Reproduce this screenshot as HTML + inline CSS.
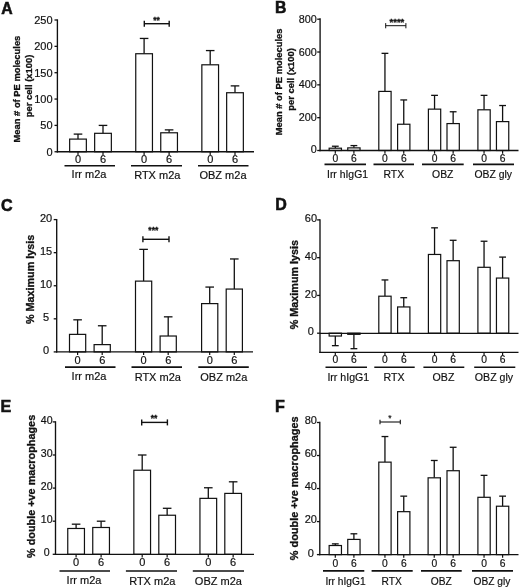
<!DOCTYPE html>
<html lang="en">
<head>
<meta charset="utf-8">
<title>Figure</title>
<style>
html,body{margin:0;padding:0;background:#fff;}
body{width:520px;height:588px;overflow:hidden;}
svg{display:block;will-change:transform;}
svg text{font-family:"Liberation Sans", Arial, Helvetica, sans-serif;fill:#111;stroke:#111;stroke-width:0.18px;}
svg text.b{stroke-width:0.3px;}
svg text.L{stroke-width:0.55px;}
</style>
</head>
<body>
<svg width="520" height="588" viewBox="0 0 520 588">
<rect x="0" y="0" width="520" height="588" fill="#fff"/>
<g>
<text x="1.3" y="14.1" font-size="15.8" text-anchor="start" font-weight="bold" class="L">A</text>
<text x="19.9" y="89.1" font-size="9.4" text-anchor="middle" font-weight="bold" class="b" transform="rotate(-90 19.9 89.1)">Mean # of PE molecules</text>
<text x="31.7" y="86" font-size="9.4" text-anchor="middle" font-weight="bold" class="b" transform="rotate(-90 31.7 86)">per cell (x100)</text>
<line x1="78" y1="134.1" x2="78" y2="139.1" stroke="#111" stroke-width="1.3" stroke-linecap="butt"/>
<line x1="73.7" y1="134.1" x2="82.3" y2="134.1" stroke="#111" stroke-width="1.3" stroke-linecap="butt"/>
<rect x="69.65" y="139.1" width="16.7" height="12.65" fill="#fff" stroke="#111" stroke-width="1.2"/>
<line x1="103" y1="125.4" x2="103" y2="133.31" stroke="#111" stroke-width="1.3" stroke-linecap="butt"/>
<line x1="98.7" y1="125.4" x2="107.3" y2="125.4" stroke="#111" stroke-width="1.3" stroke-linecap="butt"/>
<rect x="94.65" y="133.31" width="16.7" height="18.44" fill="#fff" stroke="#111" stroke-width="1.2"/>
<line x1="144.1" y1="38.44" x2="144.1" y2="53.73" stroke="#111" stroke-width="1.3" stroke-linecap="butt"/>
<line x1="139.8" y1="38.44" x2="148.4" y2="38.44" stroke="#111" stroke-width="1.3" stroke-linecap="butt"/>
<rect x="135.75" y="53.73" width="16.7" height="98.02" fill="#fff" stroke="#111" stroke-width="1.2"/>
<line x1="169.1" y1="129.88" x2="169.1" y2="132.78" stroke="#111" stroke-width="1.3" stroke-linecap="butt"/>
<line x1="164.8" y1="129.88" x2="173.4" y2="129.88" stroke="#111" stroke-width="1.3" stroke-linecap="butt"/>
<rect x="160.75" y="132.78" width="16.7" height="18.97" fill="#fff" stroke="#111" stroke-width="1.2"/>
<line x1="210.2" y1="50.57" x2="210.2" y2="64.8" stroke="#111" stroke-width="1.3" stroke-linecap="butt"/>
<line x1="205.9" y1="50.57" x2="214.5" y2="50.57" stroke="#111" stroke-width="1.3" stroke-linecap="butt"/>
<rect x="201.85" y="64.8" width="16.7" height="86.95" fill="#fff" stroke="#111" stroke-width="1.2"/>
<line x1="235" y1="85.88" x2="235" y2="92.73" stroke="#111" stroke-width="1.3" stroke-linecap="butt"/>
<line x1="230.7" y1="85.88" x2="239.3" y2="85.88" stroke="#111" stroke-width="1.3" stroke-linecap="butt"/>
<rect x="226.65" y="92.73" width="16.7" height="59.02" fill="#fff" stroke="#111" stroke-width="1.2"/>
<line x1="57.4" y1="19.35" x2="57.4" y2="152.43" stroke="#111" stroke-width="1.35" stroke-linecap="butt"/>
<line x1="56.72" y1="151.75" x2="254" y2="151.75" stroke="#111" stroke-width="1.35" stroke-linecap="butt"/>
<line x1="54.5" y1="151.75" x2="57.4" y2="151.75" stroke="#111" stroke-width="1.3" stroke-linecap="butt"/>
<text x="52.6" y="155.55" font-size="11" text-anchor="end">0</text>
<line x1="54.5" y1="125.4" x2="57.4" y2="125.4" stroke="#111" stroke-width="1.3" stroke-linecap="butt"/>
<text x="52.6" y="129.22" font-size="11" text-anchor="end">50</text>
<line x1="54.5" y1="99.05" x2="57.4" y2="99.05" stroke="#111" stroke-width="1.3" stroke-linecap="butt"/>
<text x="52.6" y="102.89" font-size="11" text-anchor="end">100</text>
<line x1="54.5" y1="72.7" x2="57.4" y2="72.7" stroke="#111" stroke-width="1.3" stroke-linecap="butt"/>
<text x="52.6" y="76.56" font-size="11" text-anchor="end">150</text>
<line x1="54.5" y1="46.35" x2="57.4" y2="46.35" stroke="#111" stroke-width="1.3" stroke-linecap="butt"/>
<text x="52.6" y="50.23" font-size="11" text-anchor="end">200</text>
<line x1="54.5" y1="20" x2="57.4" y2="20" stroke="#111" stroke-width="1.3" stroke-linecap="butt"/>
<text x="52.6" y="23.9" font-size="11" text-anchor="end">250</text>
<line x1="78" y1="151.75" x2="78" y2="154.95" stroke="#111" stroke-width="1.2" stroke-linecap="butt"/>
<text x="78" y="162.7" font-size="11" text-anchor="middle">0</text>
<line x1="103" y1="151.75" x2="103" y2="154.95" stroke="#111" stroke-width="1.2" stroke-linecap="butt"/>
<text x="103" y="162.7" font-size="11" text-anchor="middle">6</text>
<line x1="144.1" y1="151.75" x2="144.1" y2="154.95" stroke="#111" stroke-width="1.2" stroke-linecap="butt"/>
<text x="144.1" y="162.7" font-size="11" text-anchor="middle">0</text>
<line x1="169.1" y1="151.75" x2="169.1" y2="154.95" stroke="#111" stroke-width="1.2" stroke-linecap="butt"/>
<text x="169.1" y="162.7" font-size="11" text-anchor="middle">6</text>
<line x1="210.2" y1="151.75" x2="210.2" y2="154.95" stroke="#111" stroke-width="1.2" stroke-linecap="butt"/>
<text x="210.2" y="162.7" font-size="11" text-anchor="middle">0</text>
<line x1="235" y1="151.75" x2="235" y2="154.95" stroke="#111" stroke-width="1.2" stroke-linecap="butt"/>
<text x="235" y="162.7" font-size="11" text-anchor="middle">6</text>
<line x1="64.5" y1="165.8" x2="115" y2="165.8" stroke="#111" stroke-width="1.6" stroke-linecap="butt"/>
<text x="89" y="177.8" font-size="11" text-anchor="middle">Irr m2a</text>
<line x1="131" y1="165.8" x2="182" y2="165.8" stroke="#111" stroke-width="1.6" stroke-linecap="butt"/>
<text x="157.3" y="179.4" font-size="11" text-anchor="middle">RTX m2a</text>
<line x1="198" y1="165.8" x2="248.5" y2="165.8" stroke="#111" stroke-width="1.6" stroke-linecap="butt"/>
<text x="223" y="179.4" font-size="11" text-anchor="middle">OBZ m2a</text>
<line x1="144.3" y1="23.7" x2="169.2" y2="23.7" stroke="#111" stroke-width="1.4" stroke-linecap="butt"/>
<line x1="144.3" y1="20.7" x2="144.3" y2="26.7" stroke="#111" stroke-width="1.4" stroke-linecap="butt"/>
<line x1="169.2" y1="20.7" x2="169.2" y2="26.7" stroke="#111" stroke-width="1.4" stroke-linecap="butt"/>
<text x="156.6" y="22.6" font-size="8.5" text-anchor="middle" font-weight="bold" class="b">**</text>
</g>
<g>
<text x="275" y="13.1" font-size="15.8" text-anchor="start" font-weight="bold" class="L">B</text>
<text x="281.9" y="81.9" font-size="9.4" text-anchor="middle" font-weight="bold" class="b" transform="rotate(-90 281.9 81.9)">Mean # of PE molecules</text>
<text x="294.2" y="79.4" font-size="9.4" text-anchor="middle" font-weight="bold" class="b" transform="rotate(-90 294.2 79.4)">per cell (x100)</text>
<line x1="335.3" y1="146.23" x2="335.3" y2="148.2" stroke="#111" stroke-width="1.3" stroke-linecap="butt"/>
<line x1="331.9" y1="146.23" x2="338.7" y2="146.23" stroke="#111" stroke-width="1.3" stroke-linecap="butt"/>
<rect x="329.15" y="148.2" width="12.3" height="2.3" fill="#fff" stroke="#111" stroke-width="1.2"/>
<line x1="353.9" y1="145.58" x2="353.9" y2="147.87" stroke="#111" stroke-width="1.3" stroke-linecap="butt"/>
<line x1="350.5" y1="145.58" x2="357.3" y2="145.58" stroke="#111" stroke-width="1.3" stroke-linecap="butt"/>
<rect x="347.75" y="147.87" width="12.3" height="2.63" fill="#fff" stroke="#111" stroke-width="1.2"/>
<line x1="384.95" y1="53.34" x2="384.95" y2="91.41" stroke="#111" stroke-width="1.3" stroke-linecap="butt"/>
<line x1="381.55" y1="53.34" x2="388.35" y2="53.34" stroke="#111" stroke-width="1.3" stroke-linecap="butt"/>
<rect x="378.8" y="91.41" width="12.3" height="59.09" fill="#fff" stroke="#111" stroke-width="1.2"/>
<line x1="403.75" y1="99.95" x2="403.75" y2="124.24" stroke="#111" stroke-width="1.3" stroke-linecap="butt"/>
<line x1="400.35" y1="99.95" x2="407.15" y2="99.95" stroke="#111" stroke-width="1.3" stroke-linecap="butt"/>
<rect x="397.6" y="124.24" width="12.3" height="26.26" fill="#fff" stroke="#111" stroke-width="1.2"/>
<line x1="434.55" y1="95.35" x2="434.55" y2="109.14" stroke="#111" stroke-width="1.3" stroke-linecap="butt"/>
<line x1="431.15" y1="95.35" x2="437.95" y2="95.35" stroke="#111" stroke-width="1.3" stroke-linecap="butt"/>
<rect x="428.4" y="109.14" width="12.3" height="41.36" fill="#fff" stroke="#111" stroke-width="1.2"/>
<line x1="453.15" y1="111.77" x2="453.15" y2="123.58" stroke="#111" stroke-width="1.3" stroke-linecap="butt"/>
<line x1="449.75" y1="111.77" x2="456.55" y2="111.77" stroke="#111" stroke-width="1.3" stroke-linecap="butt"/>
<rect x="447" y="123.58" width="12.3" height="26.92" fill="#fff" stroke="#111" stroke-width="1.2"/>
<line x1="484.05" y1="95.35" x2="484.05" y2="109.8" stroke="#111" stroke-width="1.3" stroke-linecap="butt"/>
<line x1="480.65" y1="95.35" x2="487.45" y2="95.35" stroke="#111" stroke-width="1.3" stroke-linecap="butt"/>
<rect x="477.9" y="109.8" width="12.3" height="40.7" fill="#fff" stroke="#111" stroke-width="1.2"/>
<line x1="502.6" y1="105.53" x2="502.6" y2="121.61" stroke="#111" stroke-width="1.3" stroke-linecap="butt"/>
<line x1="499.2" y1="105.53" x2="506" y2="105.53" stroke="#111" stroke-width="1.3" stroke-linecap="butt"/>
<rect x="496.45" y="121.61" width="12.3" height="28.89" fill="#fff" stroke="#111" stroke-width="1.2"/>
<line x1="320.1" y1="18.35" x2="320.1" y2="151.18" stroke="#111" stroke-width="1.35" stroke-linecap="butt"/>
<line x1="319.42" y1="150.5" x2="518.5" y2="150.5" stroke="#111" stroke-width="1.35" stroke-linecap="butt"/>
<line x1="317.2" y1="150.5" x2="320.1" y2="150.5" stroke="#111" stroke-width="1.3" stroke-linecap="butt"/>
<text x="316.7" y="153.1" font-size="10.8" text-anchor="end">0</text>
<line x1="317.2" y1="117.67" x2="320.1" y2="117.67" stroke="#111" stroke-width="1.3" stroke-linecap="butt"/>
<text x="316.7" y="120.6" font-size="10.8" text-anchor="end">200</text>
<line x1="317.2" y1="84.85" x2="320.1" y2="84.85" stroke="#111" stroke-width="1.3" stroke-linecap="butt"/>
<text x="316.7" y="88.1" font-size="10.8" text-anchor="end">400</text>
<line x1="317.2" y1="52.02" x2="320.1" y2="52.02" stroke="#111" stroke-width="1.3" stroke-linecap="butt"/>
<text x="316.7" y="55.6" font-size="10.8" text-anchor="end">600</text>
<line x1="317.2" y1="19.2" x2="320.1" y2="19.2" stroke="#111" stroke-width="1.3" stroke-linecap="butt"/>
<text x="316.7" y="23.1" font-size="10.8" text-anchor="end">800</text>
<line x1="335.3" y1="150.5" x2="335.3" y2="153.7" stroke="#111" stroke-width="1.2" stroke-linecap="butt"/>
<text x="335.3" y="161.6" font-size="10.3" text-anchor="middle">0</text>
<line x1="353.9" y1="150.5" x2="353.9" y2="153.7" stroke="#111" stroke-width="1.2" stroke-linecap="butt"/>
<text x="353.9" y="161.6" font-size="10.3" text-anchor="middle">6</text>
<line x1="384.95" y1="150.5" x2="384.95" y2="153.7" stroke="#111" stroke-width="1.2" stroke-linecap="butt"/>
<text x="384.95" y="161.6" font-size="10.3" text-anchor="middle">0</text>
<line x1="403.75" y1="150.5" x2="403.75" y2="153.7" stroke="#111" stroke-width="1.2" stroke-linecap="butt"/>
<text x="403.75" y="161.6" font-size="10.3" text-anchor="middle">6</text>
<line x1="434.55" y1="150.5" x2="434.55" y2="153.7" stroke="#111" stroke-width="1.2" stroke-linecap="butt"/>
<text x="434.55" y="161.6" font-size="10.3" text-anchor="middle">0</text>
<line x1="453.15" y1="150.5" x2="453.15" y2="153.7" stroke="#111" stroke-width="1.2" stroke-linecap="butt"/>
<text x="453.15" y="161.6" font-size="10.3" text-anchor="middle">6</text>
<line x1="484.05" y1="150.5" x2="484.05" y2="153.7" stroke="#111" stroke-width="1.2" stroke-linecap="butt"/>
<text x="484.05" y="161.6" font-size="10.3" text-anchor="middle">0</text>
<line x1="502.6" y1="150.5" x2="502.6" y2="153.7" stroke="#111" stroke-width="1.2" stroke-linecap="butt"/>
<text x="502.6" y="161.6" font-size="10.3" text-anchor="middle">6</text>
<line x1="324.5" y1="164.4" x2="366" y2="164.4" stroke="#111" stroke-width="1.6" stroke-linecap="butt"/>
<text x="347.5" y="177.5" font-size="10.4" text-anchor="middle">Irr hIgG1</text>
<line x1="373.5" y1="164.4" x2="414" y2="164.4" stroke="#111" stroke-width="1.6" stroke-linecap="butt"/>
<text x="393.8" y="177.5" font-size="10.4" text-anchor="middle">RTX</text>
<line x1="422" y1="164.4" x2="463.7" y2="164.4" stroke="#111" stroke-width="1.6" stroke-linecap="butt"/>
<text x="442.8" y="177.5" font-size="10.4" text-anchor="middle">OBZ</text>
<line x1="473" y1="164.4" x2="514" y2="164.4" stroke="#111" stroke-width="1.6" stroke-linecap="butt"/>
<text x="493.2" y="177.5" font-size="10.4" text-anchor="middle">OBZ gly</text>
<line x1="385.7" y1="25.7" x2="405.9" y2="25.7" stroke="#111" stroke-width="1" stroke-linecap="butt"/>
<line x1="385.7" y1="23.1" x2="385.7" y2="28.3" stroke="#111" stroke-width="1" stroke-linecap="butt"/>
<line x1="405.9" y1="23.1" x2="405.9" y2="28.3" stroke="#111" stroke-width="1" stroke-linecap="butt"/>
<text x="396.9" y="25" font-size="9.5" text-anchor="middle" font-weight="bold" class="b">****</text>
</g>
<g>
<text x="1" y="210.5" font-size="16.1" text-anchor="start" font-weight="bold" class="L">C</text>
<text x="33.6" y="279.4" font-size="10.8" text-anchor="middle" font-weight="bold" class="b" transform="rotate(-90 33.6 279.4)">% Maximum lysis</text>
<line x1="77.6" y1="319.82" x2="77.6" y2="334.37" stroke="#111" stroke-width="1.3" stroke-linecap="butt"/>
<line x1="73.3" y1="319.82" x2="81.9" y2="319.82" stroke="#111" stroke-width="1.3" stroke-linecap="butt"/>
<rect x="69.5" y="334.37" width="16.2" height="17.53" fill="#fff" stroke="#111" stroke-width="1.2"/>
<line x1="102.2" y1="325.77" x2="102.2" y2="344.62" stroke="#111" stroke-width="1.3" stroke-linecap="butt"/>
<line x1="97.9" y1="325.77" x2="106.5" y2="325.77" stroke="#111" stroke-width="1.3" stroke-linecap="butt"/>
<rect x="94.1" y="344.62" width="16.2" height="7.28" fill="#fff" stroke="#111" stroke-width="1.2"/>
<line x1="143.6" y1="249.37" x2="143.6" y2="281.12" stroke="#111" stroke-width="1.3" stroke-linecap="butt"/>
<line x1="139.3" y1="249.37" x2="147.9" y2="249.37" stroke="#111" stroke-width="1.3" stroke-linecap="butt"/>
<rect x="135.5" y="281.12" width="16.2" height="70.78" fill="#fff" stroke="#111" stroke-width="1.2"/>
<line x1="168.2" y1="316.84" x2="168.2" y2="336.02" stroke="#111" stroke-width="1.3" stroke-linecap="butt"/>
<line x1="163.9" y1="316.84" x2="172.5" y2="316.84" stroke="#111" stroke-width="1.3" stroke-linecap="butt"/>
<rect x="160.1" y="336.02" width="16.2" height="15.88" fill="#fff" stroke="#111" stroke-width="1.2"/>
<line x1="209.7" y1="287.07" x2="209.7" y2="303.61" stroke="#111" stroke-width="1.3" stroke-linecap="butt"/>
<line x1="205.4" y1="287.07" x2="214" y2="287.07" stroke="#111" stroke-width="1.3" stroke-linecap="butt"/>
<rect x="201.6" y="303.61" width="16.2" height="48.29" fill="#fff" stroke="#111" stroke-width="1.2"/>
<line x1="234.3" y1="258.96" x2="234.3" y2="289.06" stroke="#111" stroke-width="1.3" stroke-linecap="butt"/>
<line x1="230" y1="258.96" x2="238.6" y2="258.96" stroke="#111" stroke-width="1.3" stroke-linecap="butt"/>
<rect x="226.2" y="289.06" width="16.2" height="62.84" fill="#fff" stroke="#111" stroke-width="1.2"/>
<line x1="56.7" y1="218.95" x2="56.7" y2="352.58" stroke="#111" stroke-width="1.35" stroke-linecap="butt"/>
<line x1="56.02" y1="351.9" x2="253" y2="351.9" stroke="#111" stroke-width="1.35" stroke-linecap="butt"/>
<line x1="53.7" y1="351.9" x2="56.7" y2="351.9" stroke="#111" stroke-width="1.3" stroke-linecap="butt"/>
<text x="46.1" y="353.5" font-size="11" text-anchor="middle">0</text>
<line x1="53.7" y1="318.82" x2="56.7" y2="318.82" stroke="#111" stroke-width="1.3" stroke-linecap="butt"/>
<text x="46.1" y="320.6" font-size="11" text-anchor="middle">5</text>
<line x1="53.7" y1="285.75" x2="56.7" y2="285.75" stroke="#111" stroke-width="1.3" stroke-linecap="butt"/>
<text x="46.1" y="287.7" font-size="11" text-anchor="middle">10</text>
<line x1="53.7" y1="252.67" x2="56.7" y2="252.67" stroke="#111" stroke-width="1.3" stroke-linecap="butt"/>
<text x="46.1" y="254.8" font-size="11" text-anchor="middle">15</text>
<line x1="53.7" y1="219.6" x2="56.7" y2="219.6" stroke="#111" stroke-width="1.3" stroke-linecap="butt"/>
<text x="46.1" y="221.9" font-size="11" text-anchor="middle">20</text>
<line x1="77.6" y1="351.9" x2="77.6" y2="355.1" stroke="#111" stroke-width="1.2" stroke-linecap="butt"/>
<text x="77.6" y="363.7" font-size="11" text-anchor="middle">0</text>
<line x1="102.2" y1="351.9" x2="102.2" y2="355.1" stroke="#111" stroke-width="1.2" stroke-linecap="butt"/>
<text x="102.2" y="363.7" font-size="11" text-anchor="middle">6</text>
<line x1="143.6" y1="351.9" x2="143.6" y2="355.1" stroke="#111" stroke-width="1.2" stroke-linecap="butt"/>
<text x="143.6" y="363.7" font-size="11" text-anchor="middle">0</text>
<line x1="168.2" y1="351.9" x2="168.2" y2="355.1" stroke="#111" stroke-width="1.2" stroke-linecap="butt"/>
<text x="168.2" y="363.7" font-size="11" text-anchor="middle">6</text>
<line x1="209.7" y1="351.9" x2="209.7" y2="355.1" stroke="#111" stroke-width="1.2" stroke-linecap="butt"/>
<text x="209.7" y="363.7" font-size="11" text-anchor="middle">0</text>
<line x1="234.3" y1="351.9" x2="234.3" y2="355.1" stroke="#111" stroke-width="1.2" stroke-linecap="butt"/>
<text x="234.3" y="363.7" font-size="11" text-anchor="middle">6</text>
<line x1="65" y1="367.1" x2="115.5" y2="367.1" stroke="#111" stroke-width="1.6" stroke-linecap="butt"/>
<text x="89" y="380.1" font-size="11" text-anchor="middle">Irr m2a</text>
<line x1="131.5" y1="367.1" x2="182" y2="367.1" stroke="#111" stroke-width="1.6" stroke-linecap="butt"/>
<text x="157.8" y="380.9" font-size="11" text-anchor="middle">RTX m2a</text>
<line x1="198.3" y1="367.1" x2="248.8" y2="367.1" stroke="#111" stroke-width="1.6" stroke-linecap="butt"/>
<text x="223.8" y="380.9" font-size="11" text-anchor="middle">OBZ m2a</text>
<line x1="142.9" y1="239.3" x2="169" y2="239.3" stroke="#111" stroke-width="1.4" stroke-linecap="butt"/>
<line x1="142.9" y1="236.3" x2="142.9" y2="242.3" stroke="#111" stroke-width="1.4" stroke-linecap="butt"/>
<line x1="169" y1="236.3" x2="169" y2="242.3" stroke="#111" stroke-width="1.4" stroke-linecap="butt"/>
<text x="153.3" y="233.2" font-size="8.5" text-anchor="middle" font-weight="bold" class="b">***</text>
</g>
<g>
<text x="275.2" y="210.3" font-size="16" text-anchor="start" font-weight="bold" class="L">D</text>
<text x="297.9" y="284.6" font-size="10.8" text-anchor="middle" font-weight="bold" class="b" transform="rotate(-90 297.9 284.6)">% Maximum lysis</text>
<line x1="335.3" y1="345.66" x2="335.3" y2="336.03" stroke="#111" stroke-width="1.3" stroke-linecap="butt"/>
<line x1="331.9" y1="345.66" x2="338.7" y2="345.66" stroke="#111" stroke-width="1.3" stroke-linecap="butt"/>
<rect x="329.15" y="333.2" width="12.3" height="2.83" fill="#fff" stroke="#111" stroke-width="1.2"/>
<line x1="353.9" y1="348.68" x2="353.9" y2="334.33" stroke="#111" stroke-width="1.3" stroke-linecap="butt"/>
<line x1="350.5" y1="348.68" x2="357.3" y2="348.68" stroke="#111" stroke-width="1.3" stroke-linecap="butt"/>
<rect x="347.75" y="333.2" width="12.3" height="1.13" fill="#fff" stroke="#111" stroke-width="1.2"/>
<line x1="384.95" y1="279.95" x2="384.95" y2="296.19" stroke="#111" stroke-width="1.3" stroke-linecap="butt"/>
<line x1="381.55" y1="279.95" x2="388.35" y2="279.95" stroke="#111" stroke-width="1.3" stroke-linecap="butt"/>
<rect x="378.8" y="296.19" width="12.3" height="37.01" fill="#fff" stroke="#111" stroke-width="1.2"/>
<line x1="403.75" y1="297.7" x2="403.75" y2="306.95" stroke="#111" stroke-width="1.3" stroke-linecap="butt"/>
<line x1="400.35" y1="297.7" x2="407.15" y2="297.7" stroke="#111" stroke-width="1.3" stroke-linecap="butt"/>
<rect x="397.6" y="306.95" width="12.3" height="26.25" fill="#fff" stroke="#111" stroke-width="1.2"/>
<line x1="434.55" y1="227.83" x2="434.55" y2="254.46" stroke="#111" stroke-width="1.3" stroke-linecap="butt"/>
<line x1="431.15" y1="227.83" x2="437.95" y2="227.83" stroke="#111" stroke-width="1.3" stroke-linecap="butt"/>
<rect x="428.4" y="254.46" width="12.3" height="78.74" fill="#fff" stroke="#111" stroke-width="1.2"/>
<line x1="453.15" y1="240.29" x2="453.15" y2="260.69" stroke="#111" stroke-width="1.3" stroke-linecap="butt"/>
<line x1="449.75" y1="240.29" x2="456.55" y2="240.29" stroke="#111" stroke-width="1.3" stroke-linecap="butt"/>
<rect x="447" y="260.69" width="12.3" height="72.51" fill="#fff" stroke="#111" stroke-width="1.2"/>
<line x1="484.05" y1="241.24" x2="484.05" y2="267.3" stroke="#111" stroke-width="1.3" stroke-linecap="butt"/>
<line x1="480.65" y1="241.24" x2="487.45" y2="241.24" stroke="#111" stroke-width="1.3" stroke-linecap="butt"/>
<rect x="477.9" y="267.3" width="12.3" height="65.9" fill="#fff" stroke="#111" stroke-width="1.2"/>
<line x1="502.6" y1="257.1" x2="502.6" y2="278.06" stroke="#111" stroke-width="1.3" stroke-linecap="butt"/>
<line x1="499.2" y1="257.1" x2="506" y2="257.1" stroke="#111" stroke-width="1.3" stroke-linecap="butt"/>
<rect x="496.45" y="278.06" width="12.3" height="55.14" fill="#fff" stroke="#111" stroke-width="1.2"/>
<line x1="320" y1="219.25" x2="320" y2="353.08" stroke="#111" stroke-width="1.35" stroke-linecap="butt"/>
<line x1="319.32" y1="352.4" x2="518.5" y2="352.4" stroke="#111" stroke-width="1.35" stroke-linecap="butt"/>
<line x1="320" y1="333.4" x2="518.5" y2="333.4" stroke="#111" stroke-width="1.3" stroke-linecap="butt"/>
<line x1="317.1" y1="333.2" x2="320" y2="333.2" stroke="#111" stroke-width="1.3" stroke-linecap="butt"/>
<text x="310.9" y="335.3" font-size="11" text-anchor="middle">0</text>
<line x1="317.1" y1="295.43" x2="320" y2="295.43" stroke="#111" stroke-width="1.3" stroke-linecap="butt"/>
<text x="310.9" y="297.55" font-size="11" text-anchor="middle">20</text>
<line x1="317.1" y1="257.67" x2="320" y2="257.67" stroke="#111" stroke-width="1.3" stroke-linecap="butt"/>
<text x="310.9" y="259.8" font-size="11" text-anchor="middle">40</text>
<line x1="317.1" y1="219.9" x2="320" y2="219.9" stroke="#111" stroke-width="1.3" stroke-linecap="butt"/>
<text x="310.9" y="222.05" font-size="11" text-anchor="middle">60</text>
<line x1="335.3" y1="352.4" x2="335.3" y2="355.6" stroke="#111" stroke-width="1.2" stroke-linecap="butt"/>
<text x="335.3" y="363.4" font-size="10.3" text-anchor="middle">0</text>
<line x1="353.9" y1="352.4" x2="353.9" y2="355.6" stroke="#111" stroke-width="1.2" stroke-linecap="butt"/>
<text x="353.9" y="363.4" font-size="10.3" text-anchor="middle">6</text>
<line x1="384.95" y1="352.4" x2="384.95" y2="355.6" stroke="#111" stroke-width="1.2" stroke-linecap="butt"/>
<text x="384.95" y="363.4" font-size="10.3" text-anchor="middle">0</text>
<line x1="403.75" y1="352.4" x2="403.75" y2="355.6" stroke="#111" stroke-width="1.2" stroke-linecap="butt"/>
<text x="403.75" y="363.4" font-size="10.3" text-anchor="middle">6</text>
<line x1="434.55" y1="352.4" x2="434.55" y2="355.6" stroke="#111" stroke-width="1.2" stroke-linecap="butt"/>
<text x="434.55" y="363.4" font-size="10.3" text-anchor="middle">0</text>
<line x1="453.15" y1="352.4" x2="453.15" y2="355.6" stroke="#111" stroke-width="1.2" stroke-linecap="butt"/>
<text x="453.15" y="363.4" font-size="10.3" text-anchor="middle">6</text>
<line x1="484.05" y1="352.4" x2="484.05" y2="355.6" stroke="#111" stroke-width="1.2" stroke-linecap="butt"/>
<text x="484.05" y="363.4" font-size="10.3" text-anchor="middle">0</text>
<line x1="502.6" y1="352.4" x2="502.6" y2="355.6" stroke="#111" stroke-width="1.2" stroke-linecap="butt"/>
<text x="502.6" y="363.4" font-size="10.3" text-anchor="middle">6</text>
<line x1="325.5" y1="367.3" x2="367" y2="367.3" stroke="#111" stroke-width="1.6" stroke-linecap="butt"/>
<text x="348.3" y="381" font-size="10.6" text-anchor="middle">Irr hIgG1</text>
<line x1="374.3" y1="367.3" x2="414.7" y2="367.3" stroke="#111" stroke-width="1.6" stroke-linecap="butt"/>
<text x="394" y="381" font-size="10.6" text-anchor="middle">RTX</text>
<line x1="423.4" y1="367.3" x2="464.3" y2="367.3" stroke="#111" stroke-width="1.6" stroke-linecap="butt"/>
<text x="443.5" y="381" font-size="10.6" text-anchor="middle">OBZ</text>
<line x1="474.2" y1="367.3" x2="515.3" y2="367.3" stroke="#111" stroke-width="1.6" stroke-linecap="butt"/>
<text x="494" y="381" font-size="10.6" text-anchor="middle">OBZ gly</text>
</g>
<g>
<text x="0.4" y="411.7" font-size="16.1" text-anchor="start" font-weight="bold" class="L">E</text>
<text x="34.9" y="486.4" font-size="10.85" text-anchor="middle" font-weight="bold" class="b" transform="rotate(-90 34.9 486.4)">% double +ve macrophages</text>
<line x1="76.1" y1="524.18" x2="76.1" y2="528.48" stroke="#111" stroke-width="1.3" stroke-linecap="butt"/>
<line x1="71.8" y1="524.18" x2="80.4" y2="524.18" stroke="#111" stroke-width="1.3" stroke-linecap="butt"/>
<rect x="67.75" y="528.48" width="16.7" height="25.82" fill="#fff" stroke="#111" stroke-width="1.2"/>
<line x1="101.1" y1="521.2" x2="101.1" y2="527.49" stroke="#111" stroke-width="1.3" stroke-linecap="butt"/>
<line x1="96.8" y1="521.2" x2="105.4" y2="521.2" stroke="#111" stroke-width="1.3" stroke-linecap="butt"/>
<rect x="92.75" y="527.49" width="16.7" height="26.81" fill="#fff" stroke="#111" stroke-width="1.2"/>
<line x1="142.2" y1="455" x2="142.2" y2="470.23" stroke="#111" stroke-width="1.3" stroke-linecap="butt"/>
<line x1="137.9" y1="455" x2="146.5" y2="455" stroke="#111" stroke-width="1.3" stroke-linecap="butt"/>
<rect x="133.85" y="470.23" width="16.7" height="84.07" fill="#fff" stroke="#111" stroke-width="1.2"/>
<line x1="167.15" y1="508.29" x2="167.15" y2="515.24" stroke="#111" stroke-width="1.3" stroke-linecap="butt"/>
<line x1="162.85" y1="508.29" x2="171.45" y2="508.29" stroke="#111" stroke-width="1.3" stroke-linecap="butt"/>
<rect x="158.8" y="515.24" width="16.7" height="39.06" fill="#fff" stroke="#111" stroke-width="1.2"/>
<line x1="208.3" y1="487.77" x2="208.3" y2="498.36" stroke="#111" stroke-width="1.3" stroke-linecap="butt"/>
<line x1="204" y1="487.77" x2="212.6" y2="487.77" stroke="#111" stroke-width="1.3" stroke-linecap="butt"/>
<rect x="199.95" y="498.36" width="16.7" height="55.94" fill="#fff" stroke="#111" stroke-width="1.2"/>
<line x1="233.15" y1="481.81" x2="233.15" y2="493.4" stroke="#111" stroke-width="1.3" stroke-linecap="butt"/>
<line x1="228.85" y1="481.81" x2="237.45" y2="481.81" stroke="#111" stroke-width="1.3" stroke-linecap="butt"/>
<rect x="224.8" y="493.4" width="16.7" height="60.9" fill="#fff" stroke="#111" stroke-width="1.2"/>
<line x1="55.5" y1="421.25" x2="55.5" y2="554.98" stroke="#111" stroke-width="1.35" stroke-linecap="butt"/>
<line x1="54.82" y1="554.3" x2="254" y2="554.3" stroke="#111" stroke-width="1.35" stroke-linecap="butt"/>
<line x1="52.7" y1="554.3" x2="55.5" y2="554.3" stroke="#111" stroke-width="1.3" stroke-linecap="butt"/>
<text x="46.7" y="556.2" font-size="10.6" text-anchor="middle">0</text>
<line x1="52.7" y1="521.2" x2="55.5" y2="521.2" stroke="#111" stroke-width="1.3" stroke-linecap="butt"/>
<text x="46.7" y="523.16" font-size="10.6" text-anchor="middle">10</text>
<line x1="52.7" y1="488.1" x2="55.5" y2="488.1" stroke="#111" stroke-width="1.3" stroke-linecap="butt"/>
<text x="46.7" y="490.12" font-size="10.6" text-anchor="middle">20</text>
<line x1="52.7" y1="455" x2="55.5" y2="455" stroke="#111" stroke-width="1.3" stroke-linecap="butt"/>
<text x="46.7" y="457.09" font-size="10.6" text-anchor="middle">30</text>
<line x1="52.7" y1="421.9" x2="55.5" y2="421.9" stroke="#111" stroke-width="1.3" stroke-linecap="butt"/>
<text x="46.7" y="424.05" font-size="10.6" text-anchor="middle">40</text>
<line x1="76.1" y1="554.3" x2="76.1" y2="557.5" stroke="#111" stroke-width="1.2" stroke-linecap="butt"/>
<text x="76.1" y="566" font-size="11" text-anchor="middle">0</text>
<line x1="101.1" y1="554.3" x2="101.1" y2="557.5" stroke="#111" stroke-width="1.2" stroke-linecap="butt"/>
<text x="101.1" y="566" font-size="11" text-anchor="middle">6</text>
<line x1="142.2" y1="554.3" x2="142.2" y2="557.5" stroke="#111" stroke-width="1.2" stroke-linecap="butt"/>
<text x="142.2" y="566" font-size="11" text-anchor="middle">0</text>
<line x1="167.15" y1="554.3" x2="167.15" y2="557.5" stroke="#111" stroke-width="1.2" stroke-linecap="butt"/>
<text x="167.15" y="566" font-size="11" text-anchor="middle">6</text>
<line x1="208.3" y1="554.3" x2="208.3" y2="557.5" stroke="#111" stroke-width="1.2" stroke-linecap="butt"/>
<text x="208.3" y="566" font-size="11" text-anchor="middle">0</text>
<line x1="233.15" y1="554.3" x2="233.15" y2="557.5" stroke="#111" stroke-width="1.2" stroke-linecap="butt"/>
<text x="233.15" y="566" font-size="11" text-anchor="middle">6</text>
<line x1="59.5" y1="571" x2="110" y2="571" stroke="#111" stroke-width="1.6" stroke-linecap="butt"/>
<text x="84" y="583.5" font-size="11" text-anchor="middle">Irr m2a</text>
<line x1="125.9" y1="571" x2="177" y2="571" stroke="#111" stroke-width="1.6" stroke-linecap="butt"/>
<text x="152.3" y="584.5" font-size="11" text-anchor="middle">RTX m2a</text>
<line x1="192.8" y1="571" x2="244" y2="571" stroke="#111" stroke-width="1.6" stroke-linecap="butt"/>
<text x="218.4" y="584.5" font-size="11" text-anchor="middle">OBZ m2a</text>
<line x1="141.7" y1="422.4" x2="167.4" y2="422.4" stroke="#111" stroke-width="1.4" stroke-linecap="butt"/>
<line x1="141.7" y1="419.4" x2="141.7" y2="425.4" stroke="#111" stroke-width="1.4" stroke-linecap="butt"/>
<line x1="167.4" y1="419.4" x2="167.4" y2="425.4" stroke="#111" stroke-width="1.4" stroke-linecap="butt"/>
<text x="154" y="421.3" font-size="8.5" text-anchor="middle" font-weight="bold" class="b">**</text>
</g>
<g>
<text x="274.9" y="411.8" font-size="16.1" text-anchor="start" font-weight="bold" class="L">F</text>
<text x="297.9" y="488.3" font-size="10.9" text-anchor="middle" font-weight="bold" class="b" transform="rotate(-90 297.9 488.3)">% double +ve macrophages</text>
<line x1="335.3" y1="543.87" x2="335.3" y2="545.52" stroke="#111" stroke-width="1.3" stroke-linecap="butt"/>
<line x1="331.9" y1="543.87" x2="338.7" y2="543.87" stroke="#111" stroke-width="1.3" stroke-linecap="butt"/>
<rect x="329.15" y="545.52" width="12.3" height="9.08" fill="#fff" stroke="#111" stroke-width="1.2"/>
<line x1="353.9" y1="533.79" x2="353.9" y2="539.41" stroke="#111" stroke-width="1.3" stroke-linecap="butt"/>
<line x1="350.5" y1="533.79" x2="357.3" y2="533.79" stroke="#111" stroke-width="1.3" stroke-linecap="butt"/>
<rect x="347.75" y="539.41" width="12.3" height="15.19" fill="#fff" stroke="#111" stroke-width="1.2"/>
<line x1="384.95" y1="436.54" x2="384.95" y2="462.13" stroke="#111" stroke-width="1.3" stroke-linecap="butt"/>
<line x1="381.55" y1="436.54" x2="388.35" y2="436.54" stroke="#111" stroke-width="1.3" stroke-linecap="butt"/>
<rect x="378.8" y="462.13" width="12.3" height="92.47" fill="#fff" stroke="#111" stroke-width="1.2"/>
<line x1="403.75" y1="496.15" x2="403.75" y2="511.67" stroke="#111" stroke-width="1.3" stroke-linecap="butt"/>
<line x1="400.35" y1="496.15" x2="407.15" y2="496.15" stroke="#111" stroke-width="1.3" stroke-linecap="butt"/>
<rect x="397.6" y="511.67" width="12.3" height="42.93" fill="#fff" stroke="#111" stroke-width="1.2"/>
<line x1="434.25" y1="460.48" x2="434.25" y2="477.82" stroke="#111" stroke-width="1.3" stroke-linecap="butt"/>
<line x1="430.85" y1="460.48" x2="437.65" y2="460.48" stroke="#111" stroke-width="1.3" stroke-linecap="butt"/>
<rect x="428.1" y="477.82" width="12.3" height="76.78" fill="#fff" stroke="#111" stroke-width="1.2"/>
<line x1="453.15" y1="447.27" x2="453.15" y2="470.72" stroke="#111" stroke-width="1.3" stroke-linecap="butt"/>
<line x1="449.75" y1="447.27" x2="456.55" y2="447.27" stroke="#111" stroke-width="1.3" stroke-linecap="butt"/>
<rect x="447" y="470.72" width="12.3" height="83.88" fill="#fff" stroke="#111" stroke-width="1.2"/>
<line x1="484.05" y1="475.34" x2="484.05" y2="497.3" stroke="#111" stroke-width="1.3" stroke-linecap="butt"/>
<line x1="480.65" y1="475.34" x2="487.45" y2="475.34" stroke="#111" stroke-width="1.3" stroke-linecap="butt"/>
<rect x="477.9" y="497.3" width="12.3" height="57.3" fill="#fff" stroke="#111" stroke-width="1.2"/>
<line x1="502.6" y1="496.15" x2="502.6" y2="506.22" stroke="#111" stroke-width="1.3" stroke-linecap="butt"/>
<line x1="499.2" y1="496.15" x2="506" y2="496.15" stroke="#111" stroke-width="1.3" stroke-linecap="butt"/>
<rect x="496.45" y="506.22" width="12.3" height="48.38" fill="#fff" stroke="#111" stroke-width="1.2"/>
<line x1="319.8" y1="421.85" x2="319.8" y2="555.28" stroke="#111" stroke-width="1.35" stroke-linecap="butt"/>
<line x1="319.12" y1="554.6" x2="518.5" y2="554.6" stroke="#111" stroke-width="1.35" stroke-linecap="butt"/>
<line x1="316.9" y1="554.6" x2="319.8" y2="554.6" stroke="#111" stroke-width="1.3" stroke-linecap="butt"/>
<text x="310.8" y="556.5" font-size="11" text-anchor="middle">0</text>
<line x1="316.9" y1="521.58" x2="319.8" y2="521.58" stroke="#111" stroke-width="1.3" stroke-linecap="butt"/>
<text x="310.8" y="523.43" font-size="11" text-anchor="middle">20</text>
<line x1="316.9" y1="488.55" x2="319.8" y2="488.55" stroke="#111" stroke-width="1.3" stroke-linecap="butt"/>
<text x="310.8" y="490.35" font-size="11" text-anchor="middle">40</text>
<line x1="316.9" y1="455.53" x2="319.8" y2="455.53" stroke="#111" stroke-width="1.3" stroke-linecap="butt"/>
<text x="310.8" y="457.28" font-size="11" text-anchor="middle">60</text>
<line x1="316.9" y1="422.5" x2="319.8" y2="422.5" stroke="#111" stroke-width="1.3" stroke-linecap="butt"/>
<text x="310.8" y="424.2" font-size="11" text-anchor="middle">80</text>
<line x1="335.3" y1="554.6" x2="335.3" y2="557.8" stroke="#111" stroke-width="1.2" stroke-linecap="butt"/>
<text x="335.3" y="566.8" font-size="10.3" text-anchor="middle">0</text>
<line x1="353.9" y1="554.6" x2="353.9" y2="557.8" stroke="#111" stroke-width="1.2" stroke-linecap="butt"/>
<text x="353.9" y="566.8" font-size="10.3" text-anchor="middle">6</text>
<line x1="384.95" y1="554.6" x2="384.95" y2="557.8" stroke="#111" stroke-width="1.2" stroke-linecap="butt"/>
<text x="384.95" y="566.8" font-size="10.3" text-anchor="middle">0</text>
<line x1="403.75" y1="554.6" x2="403.75" y2="557.8" stroke="#111" stroke-width="1.2" stroke-linecap="butt"/>
<text x="403.75" y="566.8" font-size="10.3" text-anchor="middle">6</text>
<line x1="434.25" y1="554.6" x2="434.25" y2="557.8" stroke="#111" stroke-width="1.2" stroke-linecap="butt"/>
<text x="434.25" y="566.8" font-size="10.3" text-anchor="middle">0</text>
<line x1="453.15" y1="554.6" x2="453.15" y2="557.8" stroke="#111" stroke-width="1.2" stroke-linecap="butt"/>
<text x="453.15" y="566.8" font-size="10.3" text-anchor="middle">6</text>
<line x1="484.05" y1="554.6" x2="484.05" y2="557.8" stroke="#111" stroke-width="1.2" stroke-linecap="butt"/>
<text x="484.05" y="566.8" font-size="10.3" text-anchor="middle">0</text>
<line x1="502.6" y1="554.6" x2="502.6" y2="557.8" stroke="#111" stroke-width="1.2" stroke-linecap="butt"/>
<text x="502.6" y="566.8" font-size="10.3" text-anchor="middle">6</text>
<line x1="323" y1="570.9" x2="364.3" y2="570.9" stroke="#111" stroke-width="1.6" stroke-linecap="butt"/>
<text x="345.5" y="584.9" font-size="10.2" text-anchor="middle">Irr hIgG1</text>
<line x1="371.6" y1="570.9" x2="412.7" y2="570.9" stroke="#111" stroke-width="1.6" stroke-linecap="butt"/>
<text x="391.6" y="584.9" font-size="10.2" text-anchor="middle">RTX</text>
<line x1="421" y1="570.9" x2="461.7" y2="570.9" stroke="#111" stroke-width="1.6" stroke-linecap="butt"/>
<text x="441.2" y="584.9" font-size="10.2" text-anchor="middle">OBZ</text>
<line x1="472" y1="570.9" x2="513" y2="570.9" stroke="#111" stroke-width="1.6" stroke-linecap="butt"/>
<text x="491.9" y="584.9" font-size="10.2" text-anchor="middle">OBZ gly</text>
<line x1="380" y1="422" x2="400.3" y2="422" stroke="#111" stroke-width="1.1" stroke-linecap="butt"/>
<line x1="380" y1="419.7" x2="380" y2="424.3" stroke="#111" stroke-width="1.1" stroke-linecap="butt"/>
<line x1="400.3" y1="419.7" x2="400.3" y2="424.3" stroke="#111" stroke-width="1.1" stroke-linecap="butt"/>
<text x="389.8" y="420.6" font-size="8.5" text-anchor="middle">*</text>
</g>
</svg>
</body>
</html>
